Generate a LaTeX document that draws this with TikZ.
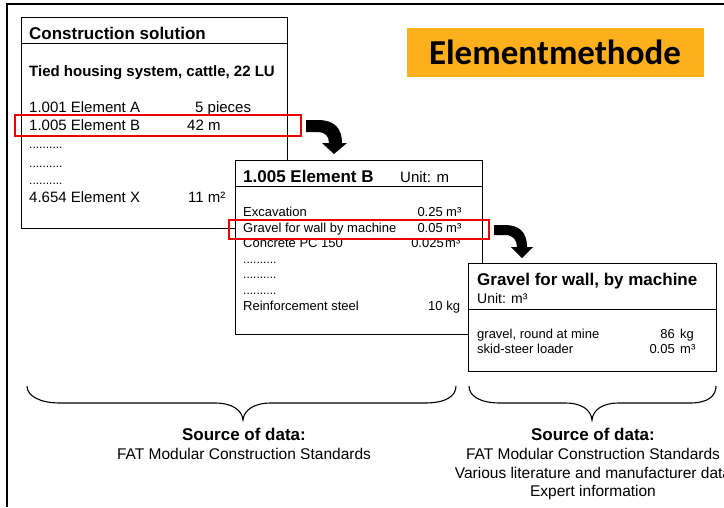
\documentclass[tikz,border=0pt]{standalone}
\usepackage{fontspec}
\setmainfont{Liberation Sans}
\newfontfamily\titlefont{Carlito}
\definecolor{orng}{RGB}{253,176,28}
\definecolor{redline}{RGB}{235,0,0}
\begin{document}
\begin{tikzpicture}[x=1pt,y=-1pt,
  box/.style={draw=black,line width=1.1pt,fill=white,inner sep=0pt,anchor=north west},
  redbox/.style={draw=redline,line width=2.4pt,inner sep=0pt,anchor=north west},
  hline/.style={line width=1pt},
  txt/.style={anchor=base west,inner sep=0pt},
  num/.style={anchor=base east,inner sep=0pt},
  hbig/.style={font=\bfseries\fontsize{17}{20}\selectfont},
  hmid/.style={font=\bfseries\fontsize{15}{18}\selectfont},
  big/.style={font=\fontsize{15}{18}\selectfont},
  small/.style={font=\fontsize{13}{15}\selectfont},
  dotsty/.style={font=\fontsize{12}{14}\selectfont},
  src/.style={anchor=base,inner sep=0pt,font=\fontsize{15.5}{18}\selectfont},
  srch/.style={anchor=base,inner sep=0pt,font=\bfseries\fontsize{17}{20}\selectfont},
  bigarrow/.style={fill=black,draw=none},
  brace/.style={line width=1.1pt}
]
\useasboundingbox (0,0) rectangle (724,507);
% outer frame
\coordinate (fa) at (7,507);
\coordinate (fb) at (7,4);
\coordinate (fc) at (724,4);
\draw[line width=1.5pt] (fa) -- (fb) -- (fc);

% title
\node[fill=orng,minimum width=297pt,minimum height=49pt,inner sep=0pt,anchor=north west] (title) at (407,28) {};
\node[anchor=base,inner sep=0pt,font=\titlefont\bfseries\fontsize{35}{40}\selectfont] (titletext) at (555,64) {Elementmethode};

% box 1
\node[box,minimum width=266pt,minimum height=211pt] (b1) at (21,17) {};
\coordinate (b1l) at (21,43);
\coordinate (b1r) at (287,43);
\draw[hline] (b1l) -- (b1r);
\node[txt,hbig] (b1h) at (29,39) {Construction solution};
\node[txt,hmid] (b1s) at (29,76) {Tied housing system, cattle, 22 LU};
\node[txt,big] (b1a) at (29,112) {1.001 Element A};
\node[txt,big] (b1av) at (195,112) {5 pieces};
\node[txt,big] (b1b) at (29,130) {1.005 Element B};
\node[txt,big] (b1bv) at (187,130) {42 m};
\node[txt,dotsty] (b1d1) at (29,148) {..........};
\node[txt,dotsty] (b1d2) at (29,167) {..........};
\node[txt,dotsty] (b1d3) at (29,184) {..........};
\node[txt,big] (b1x) at (29,202) {4.654 Element X};
\node[txt,big] (b1xv) at (188,202) {11 m²};
\node[redbox,minimum width=286pt,minimum height=21pt] (r1) at (14,114) {};

% arrow 1
\fill[bigarrow] (306,120) -- (318,120) .. controls (334,120) and (342,128) .. (342,143)
  -- (347,143) -- (334,154) -- (322,143) -- (329,143)
  .. controls (329,136) and (325,132) .. (318,132) -- (306,132) -- cycle;

% box 2
\node[box,minimum width=247pt,minimum height=174pt] (b2) at (235,160) {};
\coordinate (b2l) at (235,186);
\coordinate (b2r) at (482,186);
\draw[hline] (b2l) -- (b2r);
\node[txt,hbig] (b2h) at (243,182) {1.005 Element B};
\node[txt,big] (b2u) at (400,182) {Unit: m};
\node[txt,small] (b2a) at (243,216) {Excavation};
\node[num,small] (b2av) at (443,216) {0.25};
\node[txt,small] (b2au) at (446,216) {m³};
\node[txt,small] (b2b) at (243,232) {Gravel for wall by machine};
\node[num,small] (b2bv) at (443,232) {0.05};
\node[txt,small] (b2bu) at (446,232) {m³};
\node[txt,small] (b2c) at (243,247) {Concrete PC 150};
\node[num,small] (b2cv) at (444,247) {0.025};
\node[txt,small] (b2cu) at (445,247) {m³};
\node[txt,dotsty] (b2d1) at (243,263) {..........};
\node[txt,dotsty] (b2d2) at (243,278) {..........};
\node[txt,dotsty] (b2d3) at (243,294) {..........};
\node[txt,small] (b2e) at (243,310) {Reinforcement steel};
\node[txt,small] (b2ev) at (428,310) {10 kg};
\node[redbox,minimum width=260pt,minimum height=19pt] (r2) at (228,219) {};

% arrow 2
\fill[bigarrow] (494,225) -- (505,225) .. controls (519,225) and (527,232) .. (527,247)
  -- (533,247) -- (522,258) -- (511,247) -- (517,247)
  .. controls (517,240) and (513,235) .. (505,235) -- (494,235) -- cycle;

% box 3
\node[box,minimum width=248pt,minimum height=108pt] (b3) at (468,263) {};
\coordinate (b3l) at (468,309);
\coordinate (b3r) at (716,309);
\draw[hline] (b3l) -- (b3r);
\node[txt,hbig] (b3h) at (477,285) {Gravel for wall, by machine};
\node[txt,font=\fontsize{14}{16}\selectfont] (b3u) at (477,303) {Unit: m³};
\node[txt,small] (b3a) at (477,338) {gravel, round at mine};
\node[num,small] (b3av) at (675,338) {86};
\node[txt,small] (b3au) at (680,338) {kg};
\node[txt,small] (b3b) at (477,353) {skid-steer loader};
\node[num,small] (b3bv) at (675,353) {0.05};
\node[txt,small] (b3bu) at (680,353) {m³};

% braces
\draw[brace] (27,386) .. controls (27,396) and (40,403) .. (60,403) -- (215,403)
  .. controls (232,403) and (242,410) .. (243,420)
  .. controls (244,410) and (254,403) .. (271,403) -- (425,403)
  .. controls (446,403) and (456,396) .. (456,386);
\draw[brace] (469,386) .. controls (469,396) and (480,403) .. (500,403) -- (565,403)
  .. controls (582,403) and (591,410) .. (592,420)
  .. controls (593,410) and (602,403) .. (619,403) -- (690,403)
  .. controls (708,403) and (716,396) .. (716,386);

% sources
\node[srch] (s1h) at (244,440) {Source of data:};
\node[src] (s1a) at (244,459) {FAT Modular Construction Standards};
\node[srch] (s2h) at (593,440) {Source of data:};
\node[src] (s2a) at (593,459) {FAT Modular Construction Standards};
\node[src] (s2b) at (593,478) {Various literature and manufacturer data};
\node[src] (s2c) at (593,496) {Expert information};
\end{tikzpicture}
\end{document}
